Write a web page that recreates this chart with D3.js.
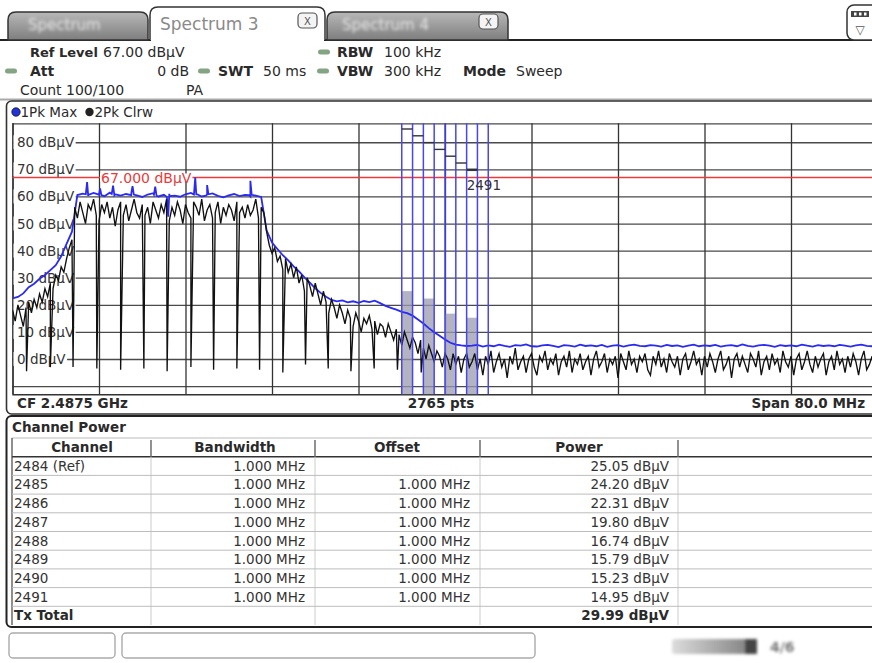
<!DOCTYPE html>
<html>
<head>
<meta charset="utf-8">
<script src="https://cdn.jsdelivr.net/npm/d3@7"></script>
<style>
body { margin: 0; background: #fff; }
svg { display: block; font-family: "DejaVu Sans", Verdana, sans-serif; }
</style>
</head>
<body>
<svg id="scr" width="872" height="663"></svg>
<script>
// ---- data ----
const startFreq = 2447.5, stopFreq = 2527.5;   // MHz, CF 2.4875 GHz, span 80 MHz
const refLevel = 67;
const yTicks = [80, 70, 60, 50, 40, 30, 20, 10, 0];
const yGrid = [80, 70, 60, 50, 40, 30, 20, 10, 0, -10];

const channels = ["2484 (Ref)", "2485", "2486", "2487", "2488", "2489", "2490", "2491"];
const chanFreq = [2484, 2485, 2486, 2487, 2488, 2489, 2490, 2491];
const bandwidths = ["1.000 MHz", "1.000 MHz", "1.000 MHz", "1.000 MHz", "1.000 MHz", "1.000 MHz", "1.000 MHz", "1.000 MHz"];
const offsets = ["", "1.000 MHz", "1.000 MHz", "1.000 MHz", "1.000 MHz", "1.000 MHz", "1.000 MHz", "1.000 MHz"];
const powerVals = [25.05, 24.20, 22.31, 19.80, 16.74, 15.79, 15.23, 14.95];
const txTotal = 29.99;

// 1Pk Max trace, one value every 0.5 MHz from 2447.5 MHz
const blueStep = 0.5;
const blueLevels = [
  22.4, 22.9, 24.2, 26.5, 27.8, 29.6, 31.0, 32.8, 34.6, 37.9, 42.5, 47.0,
  60.5, 61.0, 60.2, 61.3, 60.6, 60.1, 61.4, 60.8, 60.3, 60.9,
  61.5, 60.4, 59.8, 60.7, 61.2, 60.0, 60.6, 61.0, 60.3, 59.9,
  60.8, 61.3, 60.5, 60.0, 60.7, 61.1, 60.2, 59.7, 60.4, 60.9,
  60.1, 60.6, 60.0, 60.3, 59.8,
  47.5, 43.0, 40.6, 38.3, 36.4, 34.2, 32.3, 30.1, 28.2, 26.1,
  24.4, 23.0, 21.8, 21.3, 21.6, 20.9, 21.3, 20.7, 21.4, 21.0,
  21.5, 20.6, 19.6, 18.9, 18.2, 17.4, 16.9, 16.0, 14.6, 13.1,
  11.4, 9.9, 8.6, 7.2, 6.0, 5.3, 5.0, 4.8,
  4.9, 5.2, 4.6, 5.0, 4.7, 5.3, 4.8, 4.5, 5.1, 4.9, 5.4, 4.7, 4.6, 5.0, 5.2, 4.8, 4.4, 5.1, 4.9, 4.6,
  5.3, 4.8, 5.0, 4.7, 5.2, 4.5, 4.9, 5.1, 4.6, 5.0, 5.3, 4.8, 4.7, 5.1, 4.9, 4.6, 5.2, 4.8, 5.0, 4.5,
  4.9, 5.3, 4.7, 5.0, 4.8, 5.2, 4.6, 4.9, 5.1, 4.7, 5.4, 4.8, 4.6, 5.0, 5.2, 4.9, 4.5, 5.1, 4.8, 5.0,
  4.7, 5.3, 4.9, 4.6, 5.1, 4.8, 5.0, 4.7, 5.2, 4.9, 4.6, 5.0, 5.3, 4.8, 4.7, 5.0
];
// narrow spikes (and one dip) on the max-hold plateau
const blueSpikeFreq = [
  2454.28, 2454.4, 2454.52, 2455.48, 2455.6, 2455.72, 2456.68, 2456.8, 2456.92,
  2458.48, 2458.6, 2458.72, 2460.58, 2460.7, 2460.82, 2461.78, 2461.9, 2462.02,
  2464.28, 2464.4, 2464.52, 2465.38, 2465.5, 2465.62, 2469.38, 2469.5, 2469.62
];
const blueSpikeLevel = [
  60.8, 65.3, 60.6, 60.7, 63.0, 60.5, 60.9, 64.0, 60.4,
  60.5, 63.8, 60.7, 60.6, 63.6, 60.2, 59.8, 52.5, 60.1,
  60.7, 67.0, 60.9, 60.3, 64.2, 60.8, 60.5, 65.8, 60.6
];

// 2Pk Clrw trace, one value every 0.25 MHz from 2447.5 MHz
const blackStep = 0.25;
const blackLevels = [
  18, 14, 20, 16, 12, 19, 21, 17, 22, 19, 24, 21, 26, 23, 28, 26, 31, 29, 34, 32, 37, 41, 44,
  56, 52, 58, 54, 50, 57, 55, 59, 53, 51,
  57, 54, 58, 52, 56, 49, 55, 58, 53, 57,
  51, 55, 59, 54, 52, 57, 53, 56, 50, 58,
  55, 52, 57, 54, 59, 51, 56, 53, 58, 55,
  50, 57, 54, 52, 58, 56, 53, 59, 51, 55,
  57, 52, 54, 58, 50, 56, 53, 57, 55, 51,
  58, 54, 56, 52, 57, 53, 55, 59, 52, 56,
  54,
  47, 42, 39, 41, 36, 38, 33, 37, 32, 35,
  30, 34, 28, 31, 25, 30, 27, 23, 28, 24,
  20, 25, 21, 17, 22, 19, 15, 20, 17, 13,
  18, 15, 12, 17, 14, 10, 15, 13, 16, 11,
  14, 9, 13, 12, 8, 13, 10, 7, 11, 9,
  5, 10, 7, 4, 8, 6, 2, 7, 4, 0,
  5, 2, -1, 3, 1, -3, 2, 0, -4, 2,
  -2, 1, -5, 0, 2, -3,
  -1, 2, -4, 0, -6, 1, -2, 3, -5, -1, 2, -3, 0, -7, 1, -2, 4, -4, -1, 1,
  -5, 0, 2, -3, -6, 1, -1, 3, -4, 0, -2, 2, -6, -1, 1, -3, 3, -5, 0, -2,
  2, -4, -1, 1, -6, 0, 3, -3, -1, 2, -5, 0, -2, 1, -7, 2, -1, -4, 3, -2,
  0, -5, 1, -1, 2, -4, -6, 1, -2, 3, -3, 0, -5, 2, -1, -3, 1, -6, 0, 2,
  -4, -1, 3, -2, 0, -6, 1, -3, 2, -1, -5, 0, 3, -4, -2, 1, -7, 0, 2, -3,
  1, -2, -5, 2, 0, -3, 3, -6, -1, 1, -4, 2, -2, 0, -5, 3, -1, -3, 1, -6,
  0, 2, -4, -1, 3, -2, -5, 1, -3, 0, 2, -6, -1, 1, -4, 3, -2, 0, -5, 1,
  -3, 2, -1, -6, 0, 3, -4, -2, 1, -5, 0
];
const notchFreq = [2448.8, 2451.0, 2453.1, 2455.3, 2457.5, 2459.65, 2461.8, 2464.0, 2466.1, 2468.25,
                   2470.35, 2472.5, 2474.6, 2476.7, 2478.8, 2480.95, 2483.1, 2485.3];
const notchLevel = [-4.5, -3, -3, -3.5, -4, -3.5, -4.5, -3, -4, -3.5,
                    -4, -5, -2, -3.5, -4.5, -3.5, -4, -5];

// ---- drawing ----
const svg = d3.select("#scr");
const defs = svg.append("defs");
defs.append("filter").attr("id", "blur").attr("x", "-20%").attr("y", "-50%").attr("width", "140%").attr("height", "200%")
  .append("feGaussianBlur").attr("stdDeviation", 1.4);
const tg = defs.append("linearGradient").attr("id", "tabg").attr("x1", 0).attr("y1", 0).attr("x2", 0).attr("y2", 1);
tg.append("stop").attr("offset", "0%").attr("stop-color", "#b8b8b8");
tg.append("stop").attr("offset", "100%").attr("stop-color", "#7e7e7e");
const bg = defs.append("linearGradient").attr("id", "barg").attr("x1", 0).attr("y1", 0).attr("x2", 1).attr("y2", 0);
bg.append("stop").attr("offset", "0%").attr("stop-color", "#dcdcdc");
bg.append("stop").attr("offset", "100%").attr("stop-color", "#7a7a7a");

function label(g, x, y, s, o) {
  o = o || {};
  return g.append("text").attr("x", x).attr("y", y)
    .attr("font-size", o.size || 14)
    .attr("font-weight", o.bold ? "bold" : "normal")
    .attr("fill", o.color || "#2a2a2a")
    .attr("text-anchor", o.anchor || "start")
    .text(s);
}

// tabs
function tabPath(x0, x1, y0, y1, r) {
  return `M${x0},${y1} L${x0},${y0 + r} Q${x0},${y0} ${x0 + r},${y0} L${x1 - r},${y0} Q${x1},${y0} ${x1},${y0 + r} L${x1},${y1}`;
}
const tabs = svg.append("g");
tabs.append("path").attr("d", "M0,40 H151 M324,40 H872").attr("stroke", "#222").attr("stroke-width", 2);
tabs.append("path").attr("d", tabPath(8, 148, 12, 40, 8) + "Z").attr("fill", "url(#tabg)").attr("stroke", "#333").attr("stroke-width", 1.5);
tabs.append("path").attr("d", tabPath(327, 508, 12, 40, 8) + "Z").attr("fill", "url(#tabg)").attr("stroke", "#333").attr("stroke-width", 1.5);
tabs.append("path").attr("d", tabPath(150, 325, 7, 40, 8)).attr("fill", "#fff").attr("stroke", "#333").attr("stroke-width", 1.5);
label(tabs, 28, 30, "Spectrum", { size: 15, color: "#e4e4e4" }).attr("filter", "url(#blur)");
label(tabs, 342, 30, "Spectrum 4", { size: 15, color: "#e4e4e4" }).attr("filter", "url(#blur)");
label(tabs, 160, 30, "Spectrum 3", { size: 17, color: "#8a8a8a" });
[[298, 13], [479, 14]].forEach(p => {
  tabs.append("rect").attr("x", p[0]).attr("y", p[1]).attr("width", 19).attr("height", 15).attr("rx", 4)
    .attr("fill", "#f4f4f4").attr("stroke", "#555").attr("stroke-width", 1.2);
  label(tabs, p[0] + 9.5, p[1] + 11.5, "X", { size: 10, color: "#555", anchor: "middle" });
});
// top right icon
tabs.append("rect").attr("x", 847).attr("y", 5).attr("width", 40).attr("height", 35).attr("rx", 7)
  .attr("fill", "#fff").attr("stroke", "#333").attr("stroke-width", 1.5);
tabs.append("rect").attr("x", 851).attr("y", 11).attr("width", 18).attr("height", 6).attr("fill", "#444");
[854, 859, 864].forEach(cx => tabs.append("rect").attr("x", cx).attr("y", 12.5).attr("width", 2.5).attr("height", 3).attr("fill", "#fff"));
label(tabs, 860, 34, "\u25BD", { size: 12, color: "#555", anchor: "middle" });

// header
const hdr = svg.append("g");
[[318, 49.5], [5, 68.5], [198, 68.5], [317, 68.5]].forEach(p => {
  hdr.append("rect").attr("x", p[0]).attr("y", p[1]).attr("width", 12).attr("height", 5).attr("rx", 2.5).attr("fill", "#84a484");
});
label(hdr, 30, 57, "Ref Level", { bold: true, size: 13 });
label(hdr, 103, 57, "67.00 dBµV");
label(hdr, 337, 57, "RBW", { bold: true });
label(hdr, 384, 57, "100 kHz");
label(hdr, 30, 76, "Att", { bold: true });
label(hdr, 189, 76, "0 dB", { anchor: "end" });
label(hdr, 218, 76, "SWT", { bold: true });
label(hdr, 263, 76, "50 ms");
label(hdr, 337, 76, "VBW", { bold: true });
label(hdr, 384, 76, "300 kHz");
label(hdr, 463, 76, "Mode", { bold: true });
label(hdr, 516, 76, "Sweep");
label(hdr, 20, 95, "Count 100/100");
label(hdr, 186, 95, "PA");
hdr.append("line").attr("x1", 0).attr("x2", 872).attr("y1", 99.5).attr("y2", 99.5).attr("stroke", "#aaa").attr("stroke-width", 2);

// plot panel
const x = d3.scaleLinear().domain([startFreq, stopFreq]).range([12.5, 877.5]);
const y = d3.scaleLinear().domain([-13, 87]).range([394.2, 123.3]);
const pl = svg.append("g");
pl.append("rect").attr("x", 6.5).attr("y", 101).attr("width", 900).attr("height", 313).attr("rx", 5)
  .attr("fill", "#fff").attr("stroke", "#333").attr("stroke-width", 1.6);

// legend
pl.append("circle").attr("cx", 16).attr("cy", 112).attr("r", 4.2).attr("fill", "#2233dd").attr("stroke", "#111").attr("stroke-width", 0.8);
label(pl, 20.5, 117, "1Pk Max", { size: 13.5 });
pl.append("circle").attr("cx", 89.5).attr("cy", 112).attr("r", 4.2).attr("fill", "#222");
label(pl, 94.5, 117, "2Pk Clrw", { size: 13.5 });

// grid through axes
const gridH = pl.append("g").attr("transform", `translate(${x(startFreq)},0)`)
  .call(d3.axisLeft(y).tickValues(yGrid.concat([87])).tickSize(-(x(stopFreq) - x(startFreq))).tickFormat(""));
gridH.select(".domain").remove();
gridH.selectAll("line").attr("stroke", "#4a4a4a").attr("stroke-width", 1.3);
const gridV = pl.append("g").attr("transform", `translate(0,${y(-13)})`)
  .call(d3.axisBottom(x).tickValues(d3.range(0, 11).map(i => startFreq + i * 8)).tickSize(-(y(-13) - y(87))).tickFormat(""));
gridV.select(".domain").attr("stroke", "#333").attr("stroke-width", 1.4);
gridV.selectAll("line").attr("stroke", "#333").attr("stroke-width", 1.3);

// y labels with knocked-out background
const yl = pl.append("g").selectAll("g").data(yTicks).join("g");
yl.each(function (d) {
  const g = d3.select(this);
  const r = g.append("rect").attr("fill", "#fff");
  const t = label(g, 17, y(d) + 5, d + " dBµV", { size: 13.5, color: "#333" });
  const w = t.node().getComputedTextLength();
  r.attr("x", 13.5).attr("y", y(d) - 7).attr("width", w + 5).attr("height", 14);
});

// reference line
pl.append("line").attr("x1", x(startFreq)).attr("x2", x(stopFreq)).attr("y1", y(refLevel)).attr("y2", y(refLevel))
  .attr("stroke", "#ee3a3a").attr("stroke-width", 1.4);
const refT = pl.append("g");
const refR = refT.append("rect").attr("fill", "#fff");
const refTxt = label(refT, 101, y(refLevel) + 6, d3.format(".3f")(refLevel) + " dBµV", { size: 14, color: "#e83a3a" });
refR.attr("x", 100).attr("y", y(refLevel) - 4).attr("width", refTxt.node().getComputedTextLength() + 2).attr("height", 8);

// channel power bars
pl.append("g").selectAll("rect").data(chanFreq).join("rect")
  .attr("x", d => x(d - 0.5)).attr("width", d => x(d + 0.5) - x(d - 0.5))
  .attr("y", (d, i) => y(powerVals[i])).attr("height", (d, i) => y(-13) - y(powerVals[i]))
  .attr("fill", (d, i) => i % 2 === 0 ? "#9a9aae" : "none").attr("opacity", 0.75);

// traces
defs.append("clipPath").attr("id", "pc").append("rect")
  .attr("x", x(startFreq)).attr("y", y(87)).attr("width", x(stopFreq) - x(startFreq)).attr("height", y(-13) - y(87));
const line = d3.line().x(d => x(d.f)).y(d => y(d.v));
const bluePts = blueLevels.map((v, i) => ({ f: startFreq + i * blueStep, v }))
  .concat(blueSpikeFreq.map((f, i) => ({ f, v: blueSpikeLevel[i] })))
  .sort((a, b) => a.f - b.f);
const blackPts = blackLevels.map((v, i) => ({ f: startFreq + i * blackStep, v }))
  .concat(notchFreq.map((f, i) => ({ f, v: notchLevel[i] })))
  .sort((a, b) => a.f - b.f);
const tr = pl.append("g").attr("clip-path", "url(#pc)");
tr.append("path").datum(bluePts).attr("d", line).attr("fill", "none").attr("stroke", "#2a2af2").attr("stroke-width", 1.8);
tr.append("path").datum(blackPts).attr("d", line).attr("fill", "none").attr("stroke", "#111").attr("stroke-width", 1.35);

// channel boundaries
const bounds = chanFreq.map(f => f - 0.5).concat([chanFreq[chanFreq.length - 1] + 0.5]);
pl.append("g").selectAll("line").data(bounds).join("line")
  .attr("x1", d => x(d)).attr("x2", d => x(d)).attr("y1", y(87)).attr("y2", y(-13))
  .attr("stroke", "#4646f6").attr("stroke-width", 1.5);
// staggered channel markers
pl.append("g").selectAll("line").data(chanFreq.slice(0, 7)).join("line")
  .attr("x1", d => x(d - 0.5)).attr("x2", d => x(d + 0.5))
  .attr("y1", (d, i) => 129 + i * 6.8).attr("y2", (d, i) => 129 + i * 6.8)
  .attr("stroke", "#333").attr("stroke-width", (d, i) => i === 6 ? 2.5 : 1.4);
label(pl, x(chanFreq[6] - 0.5), 190, channels[7], { size: 13.5, color: "#333" });

// plot footer
label(pl, 17, 408, "CF 2.4875 GHz", { size: 13.5, bold: true });
label(pl, 441, 408, "2765 pts", { size: 13.5, bold: true, anchor: "middle" });
label(pl, 865, 408, "Span 80.0 MHz", { size: 13.5, bold: true, anchor: "end" });

// channel power table
const tb = svg.append("g");
tb.append("rect").attr("x", 6.5).attr("y", 416).attr("width", 900).attr("height", 211).attr("rx", 5)
  .attr("fill", "#fff").attr("stroke", "#222").attr("stroke-width", 2);
label(tb, 12, 432, "Channel Power", { size: 13.5, bold: true });
const rowTop = 456.7, rowH = 18.7;
const colSep = [151, 315, 480, 678];
tb.append("line").attr("x1", 12).attr("x2", 880).attr("y1", 438).attr("y2", 438).attr("stroke", "#bbb");
tb.append("line").attr("x1", 12).attr("x2", 880).attr("y1", rowTop).attr("y2", rowTop).attr("stroke", "#333").attr("stroke-width", 1.6);
tb.append("line").attr("x1", 12).attr("x2", 12).attr("y1", 438).attr("y2", 625).attr("stroke", "#444").attr("stroke-width", 1.2);
tb.selectAll("line.sep").data(colSep).join("line").attr("class", "sep")
  .attr("x1", d => d).attr("x2", d => d).attr("y1", 440).attr("y2", rowTop).attr("stroke", "#555").attr("stroke-width", 1.3);
tb.selectAll("line.bsep").data(colSep).join("line").attr("class", "bsep")
  .attr("x1", d => d).attr("x2", d => d).attr("y1", rowTop).attr("y2", 625).attr("stroke", "#ccc");
const heads = ["Channel", "Bandwidth", "Offset", "Power"];
const headX = [82, 235, 397, 579];
heads.forEach((h, i) => label(tb, headX[i], 452, h, { size: 13.5, bold: true, anchor: "middle" }));
const fmt = d3.format(".2f");
const rows = tb.selectAll("g.row").data(channels).join("g").attr("class", "row")
  .attr("transform", (d, i) => `translate(0,${rowTop + i * rowH})`);
rows.append("line").attr("x1", 12).attr("x2", 880).attr("y1", rowH).attr("y2", rowH).attr("stroke", "#bdbdbd");
rows.append("text").attr("x", 14).attr("y", 14).text(d => d);
rows.append("text").attr("x", 305).attr("y", 14).attr("text-anchor", "end").text((d, i) => bandwidths[i]);
rows.append("text").attr("x", 470).attr("y", 14).attr("text-anchor", "end").text((d, i) => offsets[i]);
rows.append("text").attr("x", 669).attr("y", 14).attr("text-anchor", "end").text((d, i) => fmt(powerVals[i]) + " dBµV");
rows.selectAll("text").attr("font-size", 13.5).attr("fill", "#333");
const totY = rowTop + channels.length * rowH + 14;
label(tb, 14, totY, "Tx Total", { size: 13.5, bold: true });
label(tb, 669, totY, fmt(txTotal) + " dBµV", { size: 13.5, bold: true, anchor: "end" });

// status bar
const sb = svg.append("g");
sb.append("rect").attr("x", 9).attr("y", 633).attr("width", 106).attr("height", 25).attr("rx", 4).attr("fill", "#fff").attr("stroke", "#aaa").attr("stroke-width", 1.4);
sb.append("rect").attr("x", 122).attr("y", 633).attr("width", 413).attr("height", 25).attr("rx", 4).attr("fill", "#fff").attr("stroke", "#aaa").attr("stroke-width", 1.4);
const blurG = sb.append("g").attr("filter", "url(#blur)");
blurG.append("rect").attr("x", 672).attr("y", 639).attr("width", 85).attr("height", 15).attr("rx", 3).attr("fill", "url(#barg)");
blurG.append("rect").attr("x", 745).attr("y", 639).attr("width", 12).attr("height", 15).attr("fill", "#444");
label(blurG, 770, 652, "4/6", { size: 14, bold: true, color: "#777" });
</script>
</body>
</html>
